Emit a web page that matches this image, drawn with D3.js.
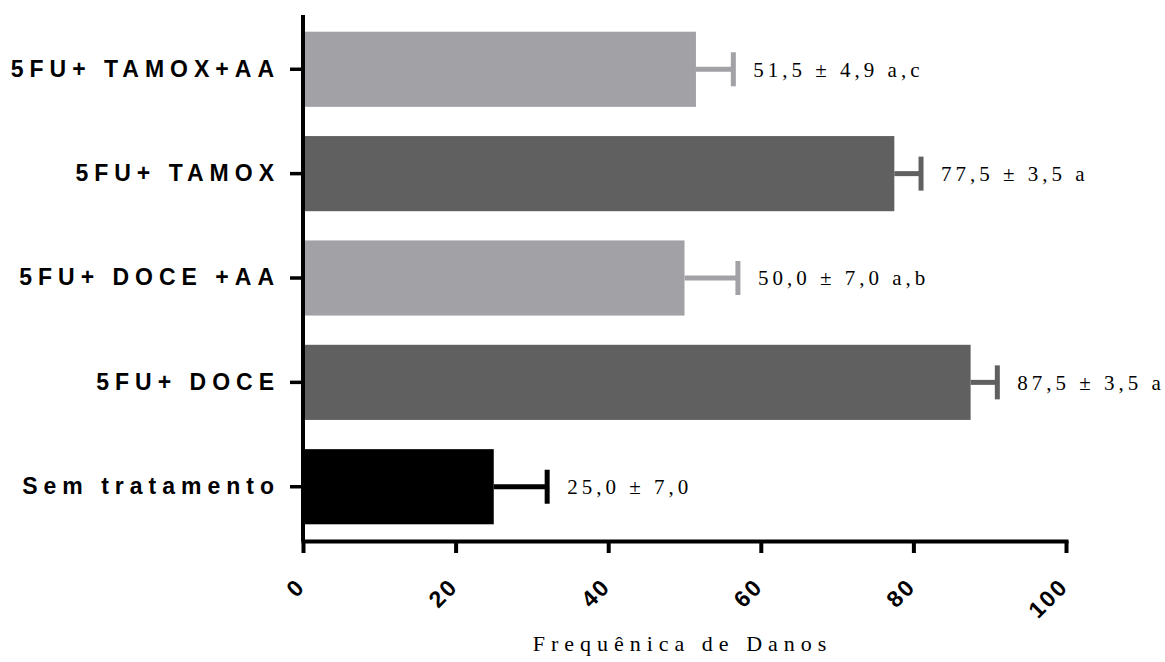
<!DOCTYPE html>
<html>
<head>
<meta charset="utf-8">
<script src="https://cdn.jsdelivr.net/npm/d3@7"></script>
<style>
  body { margin: 0; background: #fff; }
</style>
</head>
<body>
<div id="chart"></div>
<script>
const groups = ['5FU+ TAMOX+AA', '5FU+ TAMOX', '5FU+ DOCE +AA', '5FU+ DOCE', 'Sem tratamento'];
const means = [51.5, 77.5, 50.0, 87.5, 25.0];
const errors = [4.9, 3.5, 7.0, 3.5, 7.0];
const notes = ['51,5 ± 4,9 a,c', '77,5 ± 3,5 a', '50,0 ± 7,0 a,b', '87,5 ± 3,5 a', '25,0 ± 7,0'];
const colors = ['#a2a2a6', '#606060', '#a2a2a6', '#606060', '#000000'];
const xTicks = [0, 20, 40, 60, 80, 100];

const W = 1165, H = 662;
const margin = { top: 15, right: 99, bottom: 121, left: 303 };
const width = W - margin.left - margin.right;
const height = H - margin.top - margin.bottom;

const svg = d3.select('#chart').append('svg')
  .attr('width', W)
  .attr('height', H);

const g = svg.append('g').attr('transform', `translate(${margin.left},${margin.top})`);

const x = d3.scaleLinear().domain([0, 100]).range([0, width]);
const y = d3.scaleBand().domain(groups).range([0, height]).paddingInner(0.28).paddingOuter(0.16);

const rows = groups.map((name, i) => ({ name, mean: means[i], err: errors[i], note: notes[i], color: colors[i] }));

// bars
g.selectAll('rect.bar')
  .data(rows)
  .join('rect')
    .attr('class', 'bar')
    .attr('x', 0)
    .attr('y', d => y(d.name))
    .attr('width', d => x(d.mean))
    .attr('height', y.bandwidth())
    .attr('fill', d => d.color);

// error bars (one-sided)
g.selectAll('line.err')
  .data(rows)
  .join('line')
    .attr('class', 'err')
    .attr('x1', d => x(d.mean))
    .attr('x2', d => x(d.mean + d.err))
    .attr('y1', d => y(d.name) + y.bandwidth() / 2)
    .attr('y2', d => y(d.name) + y.bandwidth() / 2)
    .attr('stroke', d => d.color)
    .attr('stroke-width', 5);

g.selectAll('line.cap')
  .data(rows)
  .join('line')
    .attr('class', 'cap')
    .attr('x1', d => x(d.mean + d.err))
    .attr('x2', d => x(d.mean + d.err))
    .attr('y1', d => y(d.name) + y.bandwidth() / 2 - 17)
    .attr('y2', d => y(d.name) + y.bandwidth() / 2 + 17)
    .attr('stroke', d => d.color)
    .attr('stroke-width', 5);

// value notes
g.selectAll('text.note')
  .data(rows)
  .join('text')
    .attr('class', 'note')
    .attr('x', d => x(d.mean + d.err) + 20)
    .attr('y', d => y(d.name) + y.bandwidth() / 2)
    .attr('dy', '0.35em')
    .attr('font-family', '"Liberation Serif", "Times New Roman", serif')
    .attr('font-size', 21)
    .attr('letter-spacing', 4)
    .attr('fill', '#000')
    .text(d => d.note);

// y axis
const yAxis = g.append('g')
  .call(d3.axisLeft(y).tickSize(13).tickPadding(10));
yAxis.select('.domain')
  .attr('d', `M0,0V${height}`)
  .attr('stroke', '#000')
  .attr('stroke-width', 4);
yAxis.selectAll('.tick line').attr('stroke-width', 3.5);
yAxis.selectAll('.tick text')
  .attr('font-family', '"Liberation Sans", Arial, sans-serif')
  .attr('font-weight', 'bold')
  .attr('font-size', 23)
  .attr('letter-spacing', 6)
  .attr('fill', '#000');

// x axis
const xAxis = g.append('g')
  .attr('transform', `translate(0,${height})`)
  .call(d3.axisBottom(x).tickValues(xTicks).tickSize(12).tickSizeOuter(0));
xAxis.select('.domain')
  .attr('stroke', '#000')
  .attr('stroke-width', 4)
  .attr('stroke-linecap', 'square');
xAxis.selectAll('.tick line').attr('stroke-width', 4);
xAxis.selectAll('.tick text')
  .attr('font-family', '"Liberation Sans", Arial, sans-serif')
  .attr('font-weight', 'bold')
  .attr('font-size', 23)
  .attr('letter-spacing', 2)
  .attr('fill', '#000')
  .attr('text-anchor', 'end')
  .attr('dy', null)
  .attr('y', 0)
  .attr('transform', 'translate(3,47) rotate(-45)');

// x title
svg.append('text')
  .attr('x', margin.left + width / 2 - 2)
  .attr('y', 651)
  .attr('text-anchor', 'middle')
  .attr('font-family', '"Liberation Serif", "Times New Roman", serif')
  .attr('font-size', 22)
  .attr('letter-spacing', 6)
  .attr('fill', '#000')
  .text('Frequênica de Danos');
</script>
</body>
</html>
